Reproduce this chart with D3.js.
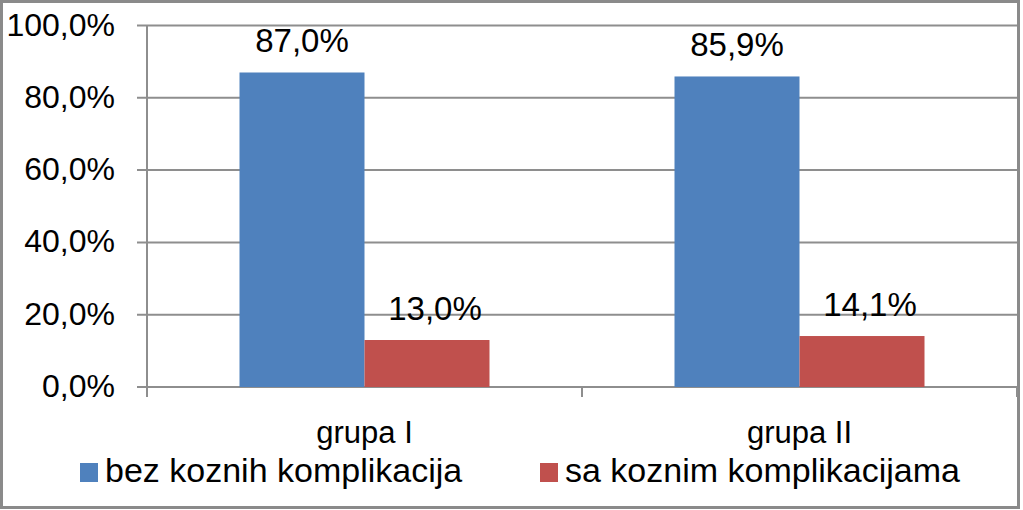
<!DOCTYPE html>
<html>
<head>
<meta charset="utf-8">
<script src="https://cdn.jsdelivr.net/npm/d3@7"></script>
<style>
  html, body { margin: 0; padding: 0; background: #fff; }
  svg { display: block; font-family: "Liberation Sans", Arial, sans-serif; }
</style>
</head>
<body>
<svg id="chart" width="1023" height="510"></svg>
<script>
const categories = ["grupa I", "grupa II"];
const seriesNames = ["bez koznih komplikacija", "sa koznim komplikacijama"];
const bezValues = [87.0, 85.9];
const saValues = [13.0, 14.1];
const yTicks = [0, 20, 40, 60, 80, 100];
const colors = ["#4F81BD", "#C0504D"];

const seriesValues = [bezValues, saValues];
const fmt = v => v.toFixed(1).replace(".", ",") + "%";

const svg = d3.select("#chart");
const m = { left: 147, right: 1017, top: 25.5, bottom: 387 };

svg.append("rect").attr("x", 1.5).attr("y", 1.5).attr("width", 1017).attr("height", 506)
  .attr("fill", "#fff").attr("stroke", "#8a8a8a").attr("stroke-width", 3);

const y = d3.scaleLinear().domain([0, 100]).range([m.bottom, m.top]);
const x0 = d3.scaleBand().domain(categories).range([m.left, m.right]).padding(0);
const x1 = d3.scaleBand().domain(seriesNames)
  .range([(x0.bandwidth() - 250) / 2, (x0.bandwidth() + 250) / 2]).padding(0);

// gridlines
svg.append("g").selectAll("line").data(yTicks).join("line")
  .attr("x1", m.left - 10).attr("x2", m.right)
  .attr("y1", d => y(d)).attr("y2", d => y(d))
  .attr("stroke", "#8e8e8e").attr("stroke-width", 2);

// y axis line
svg.append("line").attr("x1", m.left).attr("x2", m.left)
  .attr("y1", m.top).attr("y2", m.bottom + 10)
  .attr("stroke", "#8e8e8e").attr("stroke-width", 2);

// category ticks
const bounds = categories.map(c => x0(c) + x0.bandwidth());
svg.append("g").selectAll("line").data(bounds).join("line")
  .attr("x1", d => d).attr("x2", d => d)
  .attr("y1", m.bottom).attr("y2", m.bottom + 10)
  .attr("stroke", "#8e8e8e").attr("stroke-width", 2);

// y tick labels
svg.append("g").selectAll("text").data(yTicks).join("text")
  .attr("x", 115).attr("y", d => y(d) + 10)
  .attr("text-anchor", "end").attr("font-size", 32).attr("fill", "#000")
  .text(d => fmt(d));

// bars
const rows = [];
categories.forEach((c, i) => seriesNames.forEach((s, j) => rows.push({ c, s, v: seriesValues[j][i], j })));

svg.append("g").selectAll("rect").data(rows).join("rect")
  .attr("x", d => x0(d.c) + x1(d.s))
  .attr("y", d => y(d.v))
  .attr("width", x1.bandwidth())
  .attr("height", d => y(0) - y(d.v))
  .attr("fill", d => colors[d.j]);

// value labels
svg.append("g").selectAll("text").data(rows).join("text")
  .attr("x", d => x0(d.c) + x1(d.s) + x1.bandwidth() / 2 + (d.j === 1 ? 8 : 0))
  .attr("y", d => y(d.v) - 20)
  .attr("text-anchor", "middle").attr("font-size", 33).attr("fill", "#000")
  .text(d => fmt(d.v));

// category labels
svg.append("g").selectAll("text").data(categories).join("text")
  .attr("x", d => x0(d) + x0.bandwidth() / 2)
  .attr("y", 443)
  .attr("text-anchor", "middle").attr("font-size", 31).attr("fill", "#000")
  .text(d => d);

// legend
const legendX = [80, 540];
const lg = svg.append("g").selectAll("g").data(seriesNames).join("g")
  .attr("transform", (d, i) => `translate(${legendX[i]},0)`);
lg.append("rect").attr("x", 0).attr("y", 463).attr("width", 18).attr("height", 19)
  .attr("fill", (d, i) => colors[i]);
lg.append("text").attr("x", 25).attr("y", 482)
  .attr("font-size", 34).attr("fill", "#000")
  .text(d => d);
</script>
</body>
</html>
